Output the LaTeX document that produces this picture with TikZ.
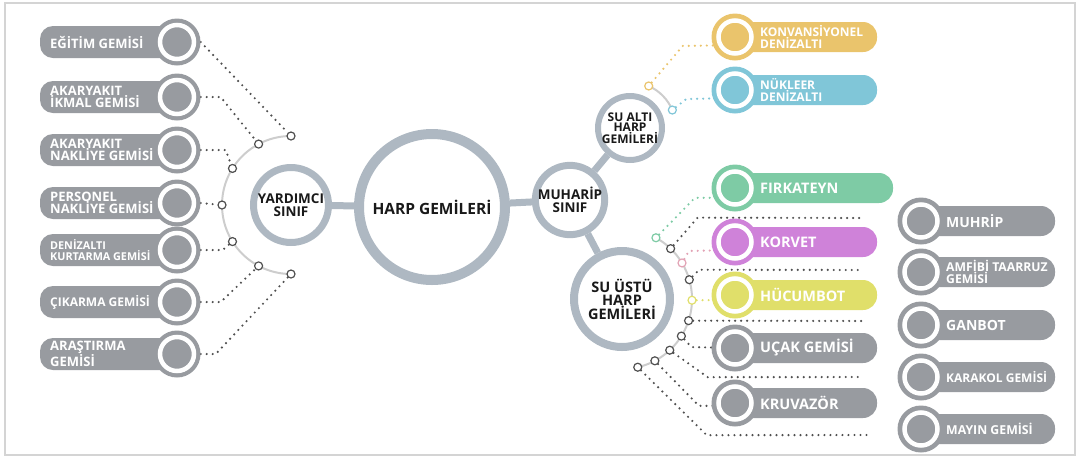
\documentclass[tikz,border=0pt]{standalone}
\usepackage{fontspec}
\setmainfont{Open Sans}
\usetikzlibrary{calc,backgrounds}

\definecolor{ringgray}{HTML}{AEB8C2}
\definecolor{pillgray}{HTML}{989BA0}
\definecolor{dotgray}{HTML}{505050}
\definecolor{arcgray}{HTML}{CDCDCD}
\definecolor{framegray}{HTML}{D4D4D4}
\definecolor{cKonv}{HTML}{EAC46C}
\definecolor{cNuk}{HTML}{80C6D8}
\definecolor{cFirk}{HTML}{7ECBA5}
\definecolor{cKorv}{HTML}{CF82D9}
\definecolor{cHucu}{HTML}{E0DF6A}
\definecolor{cPink}{HTML}{E2A3B5}

\tikzset{
  hub/.style={circle, draw=ringgray, fill=white, inner sep=0pt, align=center, text=black!90},
  hublink/.style={ringgray, line width=7pt},
  arcline/.style={arcgray, line width=2pt},
  knot/.style={circle, draw=#1, fill=white, line width=1.2pt, minimum size=8pt, inner sep=0pt},
  knot/.default=dotgray,
  dotline/.style={draw=#1, line width=2.4pt, line cap=round, dash pattern=on 0pt off 6pt},
  dotline/.default=dotgray,
  disc/.style={circle, fill=#1, minimum size=47pt, inner sep=0pt},
  ring/.style={white, line width=4.5pt},
  pilltext/.style={text=white, align=left, anchor=west, inner sep=0pt},
}

% name, y, font size, line skip, text
\newcommand\leftpill[5]{%
  \fill[pillgray, rounded corners=13pt] (40,#2-16) rectangle (180,#2+16);
  \node[disc=pillgray] (#1) at (177,#2) {};
  \draw[ring] (#1.center) circle (17);
  \node[pilltext, font=\fontsize{#3}{#4}\selectfont\bfseries] (#1-t) at (50,#2) {#5};
}
% name, disc x, right end, y, colour, font size, text
\newcommand\rightpill[7]{%
  \fill[#5, rounded corners=14pt] (#2,#4-15) rectangle (#3,#4+15);
  \node[disc=#5] (#1) at (#2,#4) {};
  \draw[ring] (#1.center) circle (16.5);
  \node[pilltext, font=\fontsize{#6}{#6}\selectfont\bfseries] (#1-t) at (#2+25,#4) {#7};
}

\begin{document}
\begin{tikzpicture}[x=1pt, y=-1pt]
\useasboundingbox (0,0) rectangle (1080,459);

%%%%% hubs
\node[hub, line width=10pt, minimum size=146pt, font=\fontsize{15.5}{17}\selectfont\bfseries] (harp) at (432,207) {HARP GEMİLERİ};
\node[hub, line width=7pt, minimum size=75pt, font=\fontsize{13.5}{13.5}\selectfont\bfseries] (yard) at (291,205) {YARDIMCI\\SINIF};
\node[hub, line width=7pt, minimum size=69pt, font=\fontsize{13.5}{13.5}\selectfont\bfseries] (muh) at (570,200) {MUHARİP\\SINIF};
\node[hub, line width=6pt, minimum size=64pt, font=\fontsize{12}{10}\selectfont\bfseries] (sualti) at (630,128) {SU ALTI\\HARP\\GEMİLERİ};
\node[hub, line width=8pt, minimum size=96pt, font=\fontsize{14.5}{13.5}\selectfont\bfseries] (suustu) at (622,299) {SU ÜSTÜ\\HARP\\GEMİLERİ};

%%%%% left pills
\leftpill{p1}{42}{13}{12.5}{EĞİTİM GEMİSİ}
\leftpill{p2}{97}{13}{12.5}{AKARYAKIT\\İKMAL GEMİSİ}
\leftpill{p3}{150}{13}{12.5}{AKARYAKIT\\NAKLİYE GEMİSİ}
\leftpill{p4}{203}{13}{12.5}{PERSONEL\\NAKLİYE GEMİSİ}
\leftpill{p5}{250}{10.8}{11.5}{DENİZALTI\\KURTARMA GEMİSİ}
\leftpill{p6}{302}{12}{12}{ÇIKARMA GEMİSİ}
\leftpill{p7}{354}{13}{12.5}{ARAŞTIRMA\\GEMİSİ}

%%%%% right pills
\rightpill{kon}{735}{877}{37}{cKonv}{12}{KONVANSİYONEL\\DENİZALTI}
\rightpill{nuk}{735}{877}{90}{cNuk}{12}{NÜKLEER\\DENİZALTI}
\rightpill{fir}{735}{893}{188}{cFirk}{14.5}{FIRKATEYN}
\rightpill{kor}{735}{877}{242}{cKorv}{14.5}{KORVET}
\rightpill{huc}{735}{877}{295}{cHucu}{14.5}{HÜCUMBOT}
\rightpill{uca}{735}{877}{348}{pillgray}{14.5}{UÇAK GEMİSİ}
\rightpill{kru}{735}{877}{403}{pillgray}{14.5}{KRUVAZÖR}

\rightpill{muhr}{921}{1055}{221}{pillgray}{14}{MUHRİP}
\rightpill{amf}{921}{1055}{272}{pillgray}{12.2}{AMFİBİ TAARRUZ\\GEMİSİ}
\rightpill{gan}{921}{1055}{325}{pillgray}{14}{GANBOT}
\rightpill{kar}{921}{1055}{377}{pillgray}{12}{KARAKOL GEMİSİ}
\rightpill{may}{921}{1055}{429}{pillgray}{12.3}{MAYIN GEMİSİ}

%%%%% knots
\foreach \a [count=\i] in {-90,-118,-148,-180,-212,-242,-270}
  \node[knot] (y\i) at ($(yard)+(\a:69)$) {};
\node[knot=cKonv] (a1) at ($(sualti)+(-66:46)$) {};
\node[knot=cNuk] (a2) at ($(sualti)+(-23:46)$) {};
\foreach \a/\c [count=\i] in {-61/cFirk,-46/dotgray,-31/cPink,-16/dotgray,1/cHucu,18/dotgray,32/dotgray,47/dotgray,62/dotgray,77/dotgray}
  \node[knot=\c] (u\i) at ($(suustu)+(\a:70)$) {};

\coordinate (e2) at (863,218);
\coordinate (e4) at (863,270);
\coordinate (e6) at (863,321);
\coordinate (e8) at (863,377);
\coordinate (e10) at (867,435);

\begin{scope}[on background layer]
  \draw[framegray, line width=1.5pt] (5,3) rectangle (1075,455);

  \draw[hublink] (yard) -- (harp);
  \draw[hublink] (harp) -- (muh);
  \draw[hublink] (muh) -- (sualti);
  \draw[hublink] (muh) -- (suustu);

  \draw[arcline] ($(yard)+(-90:69)$) arc (-90:-270:69);
  \draw[arcline] ($(sualti)+(-66:46)$) arc (-66:-23:46);
  \draw[arcline] ($(suustu)+(-61:70)$) arc (-61:77:70);

  % left side
  \draw[dotline] (p1.east) -- (y1);
  \draw[dotline] (p2.east) -- ++(20,0) -- (y2);
  \draw[dotline] (p3.east) -- ++(25,0) -- (y3);
  \draw[dotline] (p4.east) -- (y4);
  \draw[dotline] (p5.east) -- ++(22,0) -- (y5);
  \draw[dotline] (p6.east) -- ++(20,0) -- (y6);
  \draw[dotline] (p7.east) -- ++(15,0) -- (y7);

  % su alti
  \draw[dotline=cKonv] (a1) -- ++(34,-40) -- ($(kon)+(0,8)$);
  \draw[dotline=cNuk] (a2) -- ++(14,-11) -- ($(nuk)+(0,8)$);

  % su ustu
  \draw[dotline=cFirk] (u1) -- ++(39,-40) -- ($(fir)+(0,10)$);
  \draw[dotline] (u2) -- ++(27,-31) -- (e2);
  \draw[dotline=cPink] (u3) -- ++(7,-12) -- ($(kor)+(0,8)$);
  \draw[dotline] (u4) -- ++(10,-10) -- (e4);
  \draw[dotline=cHucu] (u5) -- ($(huc)+(0,5)$);
  \draw[dotline] (u6) -- (e6);
  \draw[dotline] (u7) -- ++(10,11) -- (uca);
  \draw[dotline] (u8) -- ++(38,27) -- (e8);
  \draw[dotline] (u9) -- ++(44,45) -- ($(kru)+(0,3)$);
  \draw[dotline] (u10) -- ++(69,68) -- (e10);
\end{scope}
\end{tikzpicture}
\end{document}
